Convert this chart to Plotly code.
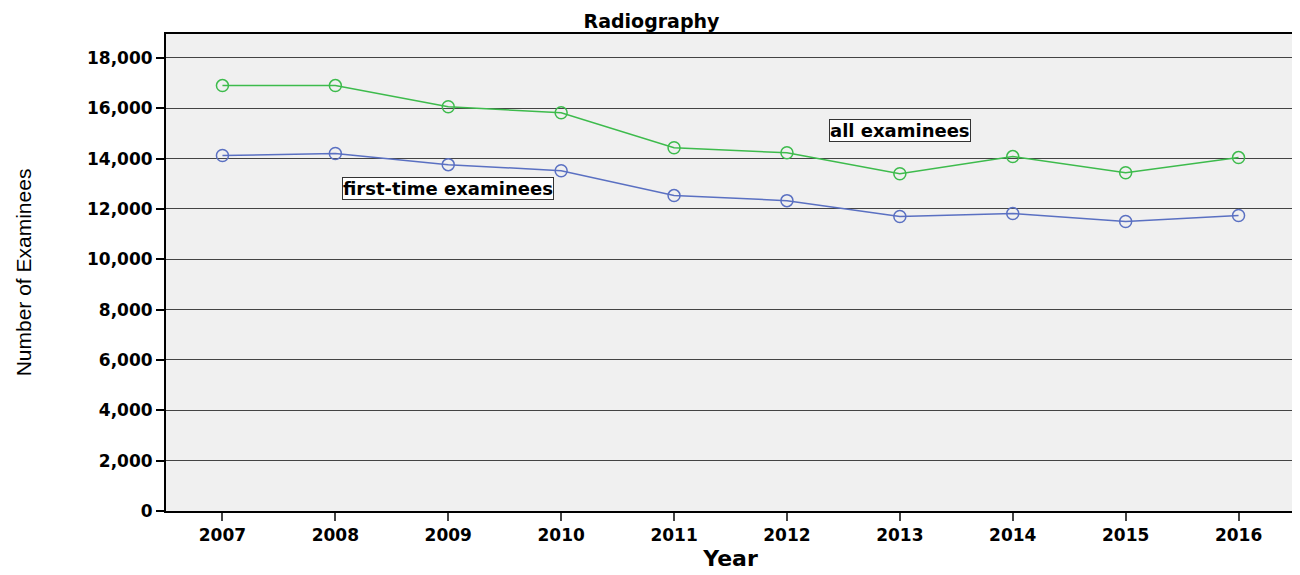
import plotly.graph_objects as go

years = [2007, 2008, 2009, 2010, 2011, 2012, 2013, 2014, 2015, 2016]
all_examinees = [16900, 16900, 16060, 15820, 14430, 14230, 13400, 14080, 13440, 14040]
first_time = [14120, 14200, 13760, 13520, 12530, 12330, 11700, 11820, 11500, 11740]
y_ticks = [0, 2000, 4000, 6000, 8000, 10000, 12000, 14000, 16000, 18000]

fig = go.Figure()
fig.add_trace(go.Scatter(x=years, y=all_examinees, mode="lines+markers",
                         line=dict(color="#3dbb4c", width=1.5),
                         marker=dict(symbol="circle-open", size=12, color="#3dbb4c", line=dict(width=1.5)),
                         name="all examinees", showlegend=False))
fig.add_trace(go.Scatter(x=years, y=first_time, mode="lines+markers",
                         line=dict(color="#5a70c2", width=1.5),
                         marker=dict(symbol="circle-open", size=12, color="#5a70c2", line=dict(width=1.5)),
                         name="first-time examinees", showlegend=False))

ann_font = dict(family="DejaVu Sans", size=18, color="black")
fig.add_annotation(x=2013.0, y=15100, text="<b>all examinees</b>", showarrow=False,
                   font=ann_font, bgcolor="white", bordercolor="#333", borderwidth=1, borderpad=0)
fig.add_annotation(x=2009.0, y=12810, text="<b>first-time examinees</b>", showarrow=False,
                   font=ann_font, bgcolor="white", bordercolor="#333", borderwidth=1, borderpad=0)

fig.update_layout(
    width=1300, height=575,
    margin=dict(l=158, r=13, t=26, b=72),
    paper_bgcolor="white", plot_bgcolor="#f0f0f0",
    title=dict(text="<b>Radiography</b>", x=0.495, xanchor="center", y=0.976, yanchor="middle",
               font=dict(family="DejaVu Sans", size=19, color="black")),
    xaxis=dict(range=[2006.5, 2016.5], tickmode="array", tickvals=years,
               ticktext=[f"<b>{y}</b>" for y in years],
               ticks="outside", ticklen=8, tickwidth=2, tickcolor="#444",
               showgrid=False, showline=True, linecolor="black", linewidth=2, mirror=True,
               zeroline=False,
               tickfont=dict(family="DejaVu Sans", size=17, color="black"),
               title=dict(text="<b>Year</b>", standoff=6,
                          font=dict(family="DejaVu Sans", size=22, color="black"))),
    yaxis=dict(range=[0, 18950], tickmode="array", tickvals=y_ticks,
               ticktext=[f"<b>{v:,}</b>" for v in y_ticks],
               ticks="outside", ticklen=8, tickwidth=2, tickcolor="black",
               showgrid=True, gridcolor="#444", gridwidth=1.4,
               showline=True, linecolor="black", linewidth=2, mirror=True,
               zeroline=False,
               tickfont=dict(family="DejaVu Sans", size=17, color="black"),
               title=dict(text="Number of Examinees", standoff=50,
                          font=dict(family="Liberation Sans Narrow, Arial Narrow, Liberation Sans", size=21, color="black"))),
)

fig.write_html("out.html")
